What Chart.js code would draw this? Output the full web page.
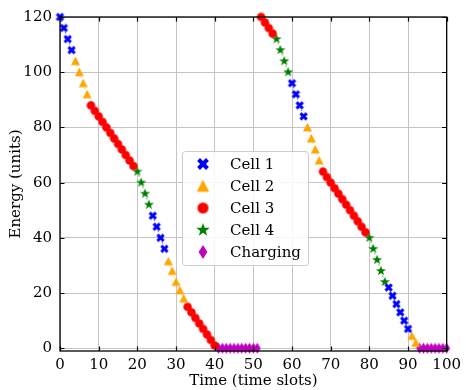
<!DOCTYPE html>
<html>
<head>
<meta charset="utf-8">
<script src="https://cdn.jsdelivr.net/npm/chart.js@4.4.1/dist/chart.umd.min.js"></script>
<style>
  html, body { margin: 0; padding: 0; background: #ffffff; }
  #wrap { width: 466px; height: 390px; }
</style>
</head>
<body>
<div id="wrap"><canvas id="energyChart" width="466" height="390"></canvas></div>
<script>
// values
const xTicks = [0, 10, 20, 30, 40, 50, 60, 70, 80, 90, 100];
const yTicks = [0, 20, 40, 60, 80, 100, 120];

const seriesNames = ['Cell 1', 'Cell 2', 'Cell 3', 'Cell 4', 'Charging'];
const seriesColors = ['#0000ff', '#ffa500', '#ff0000', '#008000', '#bf00bf'];
const seriesShapes = ['x', 'triangle', 'circle', 'star', 'diamond'];

const cell1Time = [0, 1, 2, 3, 24, 25, 26, 27, 60, 61, 62, 63, 85, 86, 87, 88, 89, 90];
const cell1Energy = [120, 116, 112, 108, 48, 44, 40, 36, 96, 92, 88, 84, 22, 19, 16, 13, 10, 7];

const cell2Time = [4, 5, 6, 7, 28, 29, 30, 31, 32, 64, 65, 66, 67, 91, 92];
const cell2Energy = [104, 100, 96, 92, 31.5, 28, 24, 21, 18, 80, 76, 72, 68, 4.5, 2];

const cell3Time = [8, 9, 10, 11, 12, 13, 14, 15, 16, 17, 18, 19,
                   33, 34, 35, 36, 37, 38, 39, 40,
                   52, 53, 54, 55,
                   68, 69, 70, 71, 72, 73, 74, 75, 76, 77, 78, 79];
const cell3Energy = [88, 86, 84, 82, 80, 78, 76, 74, 72, 70, 68, 66,
                     15, 13, 11, 9, 7, 5, 3, 1,
                     120, 118, 116, 114,
                     64, 62, 60, 58, 56, 54, 52, 50, 48, 46, 44, 42];

const cell4Time = [20, 21, 22, 23, 56, 57, 58, 59, 80, 81, 82, 83, 84];
const cell4Energy = [64, 60, 56, 52, 112, 108, 104, 100, 40, 36, 32, 28, 24];

const chargeTime = [41, 42, 43, 44, 45, 46, 47, 48, 49, 50, 51,
                    93, 94, 95, 96, 97, 98, 99, 100];
const chargeEnergy = [0, 0, 0, 0, 0, 0, 0, 0, 0, 0, 0,
                      0, 0, 0, 0, 0, 0, 0, 0];

const seriesTimes = [cell1Time, cell2Time, cell3Time, cell4Time, chargeTime];
const seriesEnergy = [cell1Energy, cell2Energy, cell3Energy, cell4Energy, chargeEnergy];

const serif = "'DejaVu Serif', 'Liberation Serif', serif";

// filled marker images, matplotlib style
function makeMarker(shape, color, size) {
    const w = Math.ceil(size) + 4;
    const c = document.createElement('canvas');
    c.width = w;
    c.height = w;
    const g = c.getContext('2d');
    const m = w / 2;
    const r = size / 2;
    g.fillStyle = color;
    g.strokeStyle = color;
    g.beginPath();
    if (shape === 'x') {
        const a = size * 0.37;
        g.lineWidth = size * 0.34;
        g.moveTo(m - a, m - a); g.lineTo(m + a, m + a);
        g.moveTo(m + a, m - a); g.lineTo(m - a, m + a);
        g.stroke();
        return c;
    }
    if (shape === 'triangle') {
        g.moveTo(m, m - r);
        g.lineTo(m + r, m + r * 0.9);
        g.lineTo(m - r, m + r * 0.9);
    } else if (shape === 'circle') {
        g.arc(m, m, r, 0, Math.PI * 2);
    } else if (shape === 'star') {
        for (let i = 0; i < 10; i++) {
            const rr = i % 2 === 0 ? r * 1.05 : r * 0.42;
            const ang = -Math.PI / 2 + i * Math.PI / 5;
            const px = m + rr * Math.cos(ang);
            const py = m + rr * Math.sin(ang);
            if (i === 0) g.moveTo(px, py); else g.lineTo(px, py);
        }
    } else if (shape === 'diamond') {
        g.moveTo(m, m - r);
        g.lineTo(m + r * 0.62, m);
        g.lineTo(m, m + r);
        g.lineTo(m - r * 0.62, m);
    }
    g.closePath();
    g.fill();
    return c;
}

const dataSizes = [8.5, 9, 8.5, 10, 11];
const legendSizes = [12, 12.5, 11, 13.5, 14];

// points per series, with a gap wherever the time slots jump
function withGaps(times, values) {
    let pts = [];
    for (let i = 0; i < times.length; i++) {
        if (i > 0 && times[i] !== times[i - 1] + 1) {
            pts.push({ x: (times[i] + times[i - 1]) / 2, y: null });
        }
        pts.push({ x: times[i], y: values[i] });
    }
    return pts;
}

function hexAlpha(hex, a) {
    const n = parseInt(hex.slice(1), 16);
    return `rgba(${(n >> 16) & 255}, ${(n >> 8) & 255}, ${n & 255}, ${a})`;
}

const datasets = seriesNames.map((name, k) => ({
    label: name,
    data: withGaps(seriesTimes[k], seriesEnergy[k]),
    showLine: true,
    spanGaps: false,
    borderColor: hexAlpha(seriesColors[k], 0.6),
    borderWidth: 1,
    borderDash: [1.5, 2.5],
    pointStyle: makeMarker(seriesShapes[k], seriesColors[k], dataSizes[k]),
    pointRadius: 4,
    backgroundColor: seriesColors[k],
    clip: false
}));

// frame, inward ticks and the boxed legend inside the plot
const framePlugin = {
    id: 'frame',
    afterDraw(chart) {
        const ctx = chart.ctx;
        const a = chart.chartArea;
        const xs = chart.scales.x;
        const ys = chart.scales.y;
        ctx.save();
        ctx.strokeStyle = '#000';
        ctx.lineWidth = 1.3;
        ctx.strokeRect(a.left, a.top, a.right - a.left, a.bottom - a.top);

        ctx.lineWidth = 1.2;
        ctx.beginPath();
        xTicks.forEach(v => {
            const px = Math.round(xs.getPixelForValue(v)) + 0.5;
            ctx.moveTo(px, a.bottom); ctx.lineTo(px, a.bottom - 4.5);
            ctx.moveTo(px, a.top); ctx.lineTo(px, a.top + 4.5);
        });
        yTicks.forEach(v => {
            const py = Math.round(ys.getPixelForValue(v)) + 0.5;
            ctx.moveTo(a.left, py); ctx.lineTo(a.left + 4.5, py);
            ctx.moveTo(a.right, py); ctx.lineTo(a.right - 4.5, py);
        });
        ctx.stroke();

        // legend
        const lx = 182, ly = 151, lw = 126, lh = 114;
        ctx.beginPath();
        ctx.roundRect(lx + 0.5, ly + 0.5, lw, lh, 3);
        ctx.fillStyle = 'rgba(255,255,255,0.85)';
        ctx.fill();
        ctx.strokeStyle = '#cccccc';
        ctx.lineWidth = 1;
        ctx.stroke();

        ctx.font = '15px ' + serif;
        ctx.textBaseline = 'middle';
        ctx.textAlign = 'left';
        ctx.fillStyle = '#000';
        seriesNames.forEach((name, k) => {
            const cy = ly + 13 + k * 22;
            const img = makeMarker(seriesShapes[k], seriesColors[k], legendSizes[k]);
            ctx.drawImage(img, 203 - img.width / 2, cy - img.height / 2);
            ctx.fillText(name, 230, cy + 1);
        });
        ctx.restore();
    }
};

const ctx = document.getElementById('energyChart').getContext('2d');

new Chart(ctx, {
    type: 'scatter',
    data: { datasets: datasets },
    options: {
        responsive: false,
        animation: false,
        devicePixelRatio: 1,
        layout: { padding: { top: 15, right: 14, left: 0, bottom: 0 } },
        plugins: {
            legend: { display: false },
            tooltip: { enabled: false }
        },
        scales: {
            x: {
                type: 'linear',
                min: 0,
                max: 100,
                afterBuildTicks: s => { s.ticks = xTicks.map(v => ({ value: v })); },
                afterFit: s => { s.height = 39; },
                grid: { color: '#c4c4c4', lineWidth: 1, drawTicks: false },
                border: { display: false },
                ticks: {
                    padding: 5,
                    color: '#000',
                    font: { family: serif, size: 15 },
                    maxRotation: 0
                },
                title: {
                    display: true,
                    text: 'Time (time slots)',
                    color: '#000',
                    font: { family: serif, size: 15 },
                    padding: { top: 0, bottom: 0 }
                }
            },
            y: {
                type: 'linear',
                min: -1,
                max: 120,
                afterBuildTicks: s => { s.ticks = yTicks.map(v => ({ value: v })); },
                afterFit: s => { s.width = 60; },
                grid: { color: '#c4c4c4', lineWidth: 1, drawTicks: false },
                border: { display: false },
                ticks: {
                    padding: 8,
                    color: '#000',
                    font: { family: serif, size: 15 }
                },
                title: {
                    display: true,
                    text: 'Energy (units)',
                    color: '#000',
                    font: { family: serif, size: 15 },
                    padding: { top: 7, bottom: 0 }
                }
            }
        }
    },
    plugins: [framePlugin]
});
</script>
</body>
</html>
